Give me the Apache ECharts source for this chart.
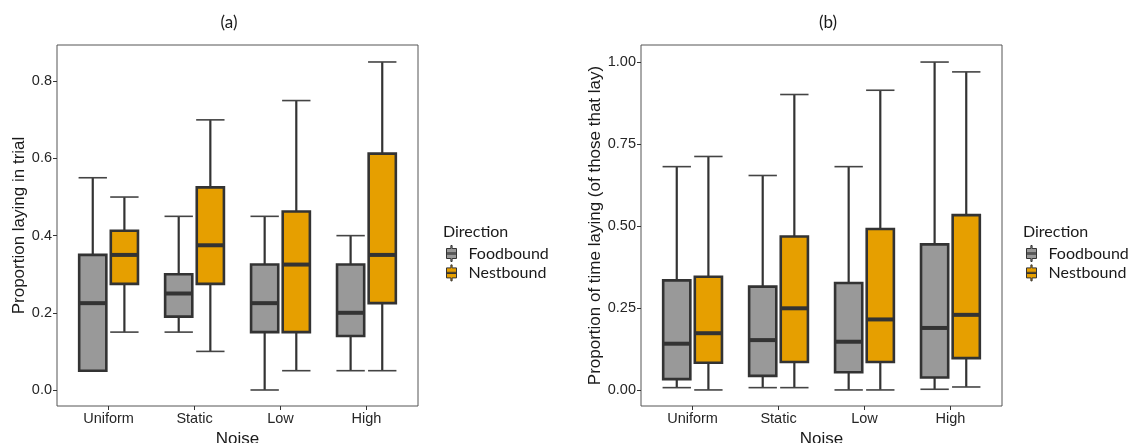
<!DOCTYPE html>
<html>
<head>
<meta charset="utf-8">
<script src="https://cdn.jsdelivr.net/npm/echarts@6/dist/echarts.min.js"></script>
<style>
  html, body { margin: 0; padding: 0; background: #ffffff; }
  #chart { width: 1139px; height: 443px; }
</style>
</head>
<body>
<div id="chart"></div>
<script>
// Noise treatments along the x axis
const categories = ['Uniform', 'Static', 'Low', 'High'];

// Box summaries, one entry per noise level: [min, Q1, median, Q3, max]
// (a) proportion laying in trial
const layingFood = [
  [0.05, 0.05, 0.225, 0.35, 0.55],
  [0.15, 0.19, 0.25, 0.30, 0.45],
  [0.00, 0.15, 0.225, 0.325, 0.45],
  [0.05, 0.14, 0.20, 0.325, 0.40]
];
const layingNest = [
  [0.15, 0.275, 0.35, 0.4125, 0.50],
  [0.10, 0.275, 0.375, 0.525, 0.70],
  [0.05, 0.15, 0.325, 0.4625, 0.75],
  [0.05, 0.225, 0.35, 0.6125, 0.85]
];
// (b) proportion of time laying, among ants that lay
const timeFood = [
  [0.007, 0.033, 0.141, 0.334, 0.681],
  [0.007, 0.043, 0.152, 0.315, 0.654],
  [0.000, 0.054, 0.147, 0.326, 0.681],
  [0.002, 0.038, 0.189, 0.444, 1.000]
];
const timeNest = [
  [0.000, 0.083, 0.173, 0.345, 0.712],
  [0.007, 0.085, 0.249, 0.468, 0.901],
  [0.000, 0.085, 0.215, 0.491, 0.914],
  [0.009, 0.097, 0.229, 0.533, 0.970]
];

// Tick values
const categoryTicks = [0, 1, 2, 3];
const ticksA = [0, 0.2, 0.4, 0.6, 0.8];
const ticksB = [0, 0.25, 0.5, 0.75, 1.0];

const seriesNames = ['Foodbound', 'Nestbound'];
const fillColors = ['#999999', '#E69F00'];
const ink = '#333333';
const labelFont = '"Liberation Sans", Arial, sans-serif';
const textFont = 'Lato, "Open Sans", sans-serif';

// Draws one dodged box-and-whisker per row using the axis scales
function boxRenderer(shift) {
  return function (params, api) {
    const x = api.value(0);
    const unit = api.size([1, 0])[0];
    const cx = api.coord([x + shift, 0])[0];
    const yAt = (i) => api.coord([x, api.value(i)])[1];
    const yMin = yAt(1), yQ1 = yAt(2), yMed = yAt(3), yQ3 = yAt(4), yMax = yAt(5);
    const half = unit * 0.158;
    const capHalf = unit * 0.165;
    const fill = api.visual('color');
    return {
      type: 'group',
      children: [
        { type: 'line', shape: { x1: cx, y1: yMax, x2: cx, y2: yQ3 }, style: { stroke: ink, lineWidth: 2.2 } },
        { type: 'line', shape: { x1: cx, y1: yQ1, x2: cx, y2: yMin }, style: { stroke: ink, lineWidth: 2.2 } },
        { type: 'line', shape: { x1: cx - capHalf, y1: yMax, x2: cx + capHalf, y2: yMax }, style: { stroke: '#444', lineWidth: 1.6 } },
        { type: 'line', shape: { x1: cx - capHalf, y1: yMin, x2: cx + capHalf, y2: yMin }, style: { stroke: '#444', lineWidth: 1.6 } },
        { type: 'rect', shape: { x: cx - half, y: yQ3, width: 2 * half, height: yQ1 - yQ3 }, style: { fill: fill, stroke: ink, lineWidth: 2.6 } },
        { type: 'line', shape: { x1: cx - half, y1: yMed, x2: cx + half, y2: yMed }, style: { stroke: ink, lineWidth: 4 } }
      ]
    };
  };
}

function boxSeries(name, rows, axisIndex, shift, color) {
  return {
    type: 'custom',
    name: name,
    xAxisIndex: axisIndex,
    yAxisIndex: axisIndex,
    silent: true,
    itemStyle: { color: color },
    renderItem: boxRenderer(shift),
    encode: { x: 0, y: [1, 2, 3, 4, 5] },
    data: rows.map((r, i) => [i].concat(r))
  };
}

function xAxisFor(gridIndex) {
  return {
    type: 'value',
    gridIndex: gridIndex,
    min: -0.6,
    max: 3.6,
    name: 'Noise',
    nameLocation: 'middle',
    nameGap: 22,
    nameTextStyle: { fontFamily: labelFont, fontSize: 17, color: '#1a1a1a' },
    axisLine: { show: false, onZero: false },
    splitLine: { show: false },
    axisTick: { show: true, length: 4, customValues: categoryTicks, lineStyle: { color: ink, width: 1 } },
    axisLabel: {
      customValues: categoryTicks,
      formatter: (v) => categories[Math.round(v)],
      fontFamily: labelFont, fontSize: 14.5, color: '#262626', margin: 5
    }
  };
}

function yAxisFor(gridIndex, min, max, ticks, digits, title, gap) {
  return {
    type: 'value',
    gridIndex: gridIndex,
    min: min,
    max: max,
    name: title,
    nameLocation: 'middle',
    nameGap: gap,
    nameTextStyle: { fontFamily: labelFont, fontSize: 17, color: '#1a1a1a' },
    axisLine: { show: false, onZero: false },
    splitLine: { show: false },
    axisTick: { show: true, length: 4, customValues: ticks, lineStyle: { color: ink, width: 1 } },
    axisLabel: {
      customValues: ticks,
      formatter: (v) => v.toFixed(digits),
      fontFamily: labelFont, fontSize: 14.5, color: '#262626', margin: 5
    }
  };
}

// Small box glyph used for legend keys
const keyIcon = 'path://M4.4,0 H5.6 V3 H10 V13 H5.6 V16 H4.4 V13 H0 V3 H4.4 Z M0,7.4 H10 V8.6 H0 Z';

function legendFor(left) {
  return {
    orient: 'vertical',
    left: left,
    top: 240,
    itemWidth: 24,
    itemHeight: 16,
    itemGap: 2.4,
    selectedMode: false,
    textStyle: { fontFamily: textFont, fontSize: 16, color: '#1a1a1a' },
    data: seriesNames.map((n, i) => ({
      name: n,
      icon: keyIcon,
      itemStyle: { color: fillColors[i], borderColor: ink, borderWidth: 1 }
    }))
  };
}

const chart = echarts.init(document.getElementById('chart'), null, { renderer: 'canvas' });
chart.setOption({
  animation: false,
  backgroundColor: '#ffffff',
  title: [
    { text: '(a)', left: 224, top: 9, textAlign: 'center', textStyle: { fontFamily: textFont, fontSize: 17, fontWeight: 'normal', color: '#1a1a1a' } },
    { text: '(b)', left: 823, top: 9, textAlign: 'center', textStyle: { fontFamily: textFont, fontSize: 17, fontWeight: 'normal', color: '#1a1a1a' } },
    { text: 'Direction', left: 438, top: 219, textStyle: { fontFamily: textFont, fontSize: 16, fontWeight: 'normal', color: '#1a1a1a' } },
    { text: 'Direction', left: 1018, top: 219, textStyle: { fontFamily: textFont, fontSize: 16, fontWeight: 'normal', color: '#1a1a1a' } }
  ],
  legend: [legendFor(441), legendFor(1021)],
  grid: [
    { left: 57, top: 45, width: 361, height: 361, outerBoundsMode: 'none', containLabel: false, show: true, borderColor: '#555', borderWidth: 1, backgroundColor: 'transparent' },
    { left: 641, top: 45, width: 361, height: 361, outerBoundsMode: 'none', containLabel: false, show: true, borderColor: '#555', borderWidth: 1, backgroundColor: 'transparent' }
  ],
  xAxis: [xAxisFor(0), xAxisFor(1)],
  yAxis: [
    yAxisFor(0, -0.0415, 0.894, ticksA, 1, 'Proportion laying in trial', 29),
    yAxisFor(1, -0.049, 1.052, ticksB, 2, 'Proportion of time laying (of those that lay)', 36)
  ],
  series: [
    boxSeries(seriesNames[0], layingFood, 0, -0.184, fillColors[0]),
    boxSeries(seriesNames[1], layingNest, 0, 0.184, fillColors[1]),
    boxSeries(seriesNames[0], timeFood, 1, -0.184, fillColors[0]),
    boxSeries(seriesNames[1], timeNest, 1, 0.184, fillColors[1])
  ]
});
</script>
</body>
</html>
